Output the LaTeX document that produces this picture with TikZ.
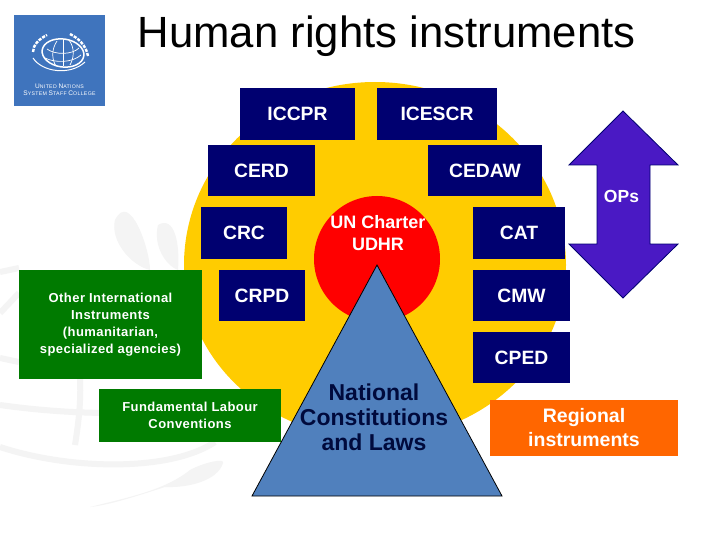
\documentclass[tikz,border=0pt]{standalone}
\usepackage{fontspec}
\usetikzlibrary{shapes.geometric}
\setmainfont{Liberation Sans}
\newfontfamily\spacedf[LetterSpace=3.3]{Liberation Sans}
\newfontfamily\logof[LetterSpace=6]{Liberation Sans}
\definecolor{navyb}{HTML}{000070}
\definecolor{greenb}{HTML}{007A00}
\definecolor{yelc}{HTML}{FFCC00}
\definecolor{tri}{HTML}{5080BD}
\definecolor{arrowc}{HTML}{4A19C4}
\definecolor{orangeb}{HTML}{FF6600}
\definecolor{logoc}{HTML}{3F74BD}
\definecolor{wm}{HTML}{F4F4F4}
\definecolor{natc}{HTML}{000A3C}
\tikzset{
  treaty/.style={fill=navyb,draw=none,text=white,font=\bfseries\fontsize{19.3}{21}\selectfont,anchor=center,inner sep=0pt},
  greenbox/.style={fill=greenb,draw=none,text=white,font=\spacedf\bfseries\fontsize{13}{16.8}\selectfont,align=center,inner sep=0pt},
  wmline/.style={draw=wm,line width=6pt},
  logoline/.style={draw=white,line width=0.7pt},
  leafy/.style={white,line width=2.4pt,dash pattern=on 3.2pt off 1.2pt},
  logotext/.style={text=white,font=\logof\fontsize{5.2}{6}\selectfont,inner sep=0pt},
}
\newcommand{\boxat}[6]{\node[#1,minimum width=#4pt-#2pt,minimum height=#5pt-#3pt] (#6) at ({(#2+#4)/2},{(#3+#5)/2})}
\newcommand{\lgcap}[1]{{\fontsize{6.6}{6}\selectfont #1}}
\begin{document}
\begin{tikzpicture}[x=1pt,y=-1pt]
\useasboundingbox (0,0) rectangle (720,540);
\fill[white] (0,0) rectangle (720,540);
% watermark
\draw[wmline] (0,272) -- (19,268);
\draw[wmline] (0,313) -- (19,293);
\draw[wmline] (0,358) -- (19,362);
\draw[wmline] (0,405) .. controls (70,415) and (180,420) .. (245,393);
\draw[wmline] (0,447) .. controls (70,470) and (170,472) .. (215,442);
\draw[wmline] (80,379) .. controls (81,400) and (79,420) .. (75,445);
\fill[wm] (115,220) .. controls (130,190) and (150,250) .. (150,270) .. controls (130,265) and (110,240) .. (115,220) -- cycle;
\fill[wm] (158,225) .. controls (175,215) and (180,245) .. (178,270) .. controls (165,265) and (153,245) .. (158,225) -- cycle;
\fill[wm] (90,507) .. controls (130,497) and (165,490) .. (190,470) .. controls (205,462) and (225,458) .. (223,463) .. controls (218,480) and (190,488) .. (165,487) .. controls (140,495) and (110,505) .. (90,507) -- cycle;
% logo
\fill[logoc] (14,15) rectangle (105,106);
\node[draw=white,line width=1.5pt,ellipse,rotate=-8,minimum width=42pt,minimum height=28pt,inner sep=0pt] (globe) at (63,53) {};
\draw[logoline] (47,49) .. controls (55,55) and (72,55) .. (79,48);
\draw[logoline] (45,58) .. controls (55,63) and (72,63) .. (81,55);
\draw[logoline] (63,40) -- (63,66);
\draw[logoline] (57,41) .. controls (51,50) and (52,60) .. (56,66);
\draw[logoline] (69,40) .. controls (75,48) and (74,58) .. (70,65);
\draw[leafy] (33,52) .. controls (33,45) and (39,39) .. (47,35);
\draw[leafy] (70,34) .. controls (78,38) and (86,45) .. (88,56);
\draw[white,line width=1pt] (33,58) .. controls (42,72) and (70,76) .. (85,62);
\node[logotext] (lg1) at (59.5,86.5) {\lgcap{U}NITED \lgcap{N}ATIONS};
\node[logotext] (lg2) at (59.5,93.5) {\lgcap{S}YSTEM \lgcap{S}TAFF \lgcap{C}OLLEGE};
% title
\node[font=\fontsize{43.7}{46}\selectfont,inner sep=0pt,text=black,anchor=base] (title) at (386.5,48) {Human rights instruments};
% big shapes
\fill[yelc] (566,265) arc[start angle=0,end angle=180,x radius=191pt,y radius=183pt] arc[start angle=180,end angle=360,x radius=191pt,y radius=174pt] -- cycle;
\node[circle,fill=red,minimum size=126pt,inner sep=0pt] (core) at (377,259) {};
\path[fill=tri,draw=black,line width=0.8pt] (377,265) -- (502,496) -- (252,496) -- cycle;
% arrow
\path[fill=arrowc,draw=navyb,line width=0.8pt] (623,111) -- (678,165) -- (650,165) -- (650,244) -- (678,244) -- (623,298) -- (569,244) -- (597,244) -- (597,165) -- (569,165) -- cycle;
\node[text=white,font=\bfseries\fontsize{17.5}{19}\selectfont,inner sep=0pt] (ops) at (621.5,196) {OPs};
% treaty boxes
\boxat{treaty}{240}{88}{355}{140}{iccpr} {ICCPR};
\boxat{treaty}{377}{88}{497}{140}{icescr} {ICESCR};
\boxat{treaty}{208}{145}{315}{196}{cerd} {CERD};
\boxat{treaty}{428}{145}{542}{196}{cedaw} {CEDAW};
\boxat{treaty}{201}{207}{287}{259}{crc} {CRC};
\boxat{treaty}{473}{207}{565}{259}{cat} {CAT};
\boxat{treaty}{219}{270}{305}{321}{crpd} {CRPD};
\boxat{treaty}{473}{270}{570}{321}{cmw} {CMW};
\boxat{treaty}{473}{332}{570}{383}{cped} {CPED};
\boxat{greenbox}{19}{270}{202}{379}{other} {Other International\\Instruments\\(humanitarian,\\specialized agencies)};
\boxat{greenbox}{99}{389}{281}{442}{labour} {Fundamental Labour\\Conventions};
\boxat{treaty,fill=orangeb,font=\bfseries\fontsize{19.5}{24}\selectfont,align=center}{490}{400}{678}{456}{regional} {Regional\\instruments};
\node[text=white,font=\bfseries\fontsize{18}{22}\selectfont,align=center,inner sep=0pt] (un) at (378,233.5) {UN Charter\\UDHR};
\node[text=natc,font=\bfseries\fontsize{23}{25}\selectfont,align=center,inner sep=0pt] (nat) at (374,417) {National\\Constitutions\\and Laws};
\end{tikzpicture}
\end{document}
